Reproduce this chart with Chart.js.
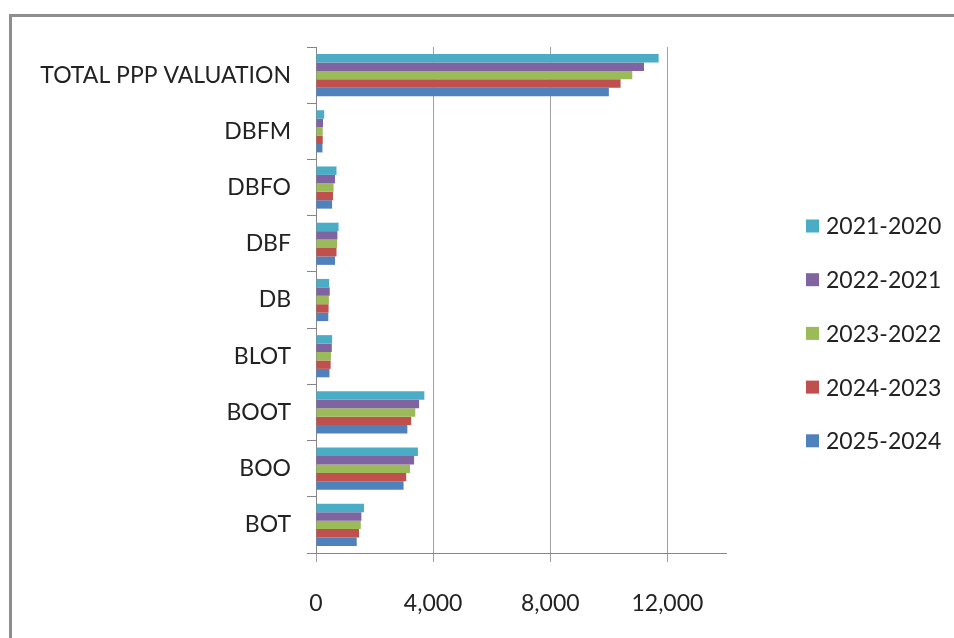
<!DOCTYPE html>
<html>
<head>
<meta charset="utf-8">
<script src="https://cdn.jsdelivr.net/npm/chart.js@4.4.1/dist/chart.umd.min.js"></script>
<style>
  html, body { margin: 0; padding: 0; background: #fff; overflow: hidden; }
  #frame { position: absolute; left: 9px; top: 14px; width: 1000px; height: 700px;
           border-left: 3px solid #8e8e8e; border-top: 3px solid #8e8e8e; }
  #wrap { position: absolute; left: 0; top: 0; width: 954px; height: 638px; }
</style>
</head>
<body>
<div id="frame"></div>
<div id="wrap"><canvas id="pppChart" width="954" height="638"></canvas></div>
<script>
// PPP models and the valuation per financial year
const categories = ['TOTAL PPP VALUATION', 'DBFM', 'DBFO', 'DBF', 'DB', 'BLOT', 'BOOT', 'BOO', 'BOT'];
const seriesNames = ['2021-2020', '2022-2021', '2023-2022', '2024-2023', '2025-2024'];
const fy2021 = [11700, 280, 700, 770, 450, 550, 3700, 3480, 1640];
const fy2022 = [11200, 240, 650, 730, 470, 540, 3520, 3350, 1550];
const fy2023 = [10800, 230, 600, 720, 440, 510, 3390, 3210, 1530];
const fy2024 = [10400, 230, 580, 700, 430, 500, 3250, 3080, 1470];
const fy2025 = [10000, 220, 550, 650, 420, 460, 3120, 2990, 1390];
const xTicks = [0, 4000, 8000, 12000];
const xMax = 14000;

const colors = ['#4bacc6', '#8064a2', '#9bbb59', '#c0504d', '#4f81bd'];
const FONT = 'Lato, "Open Sans", sans-serif';
const TEXT = '#222222';

// legend on the right, drawn as a column of square swatches
const sideLegend = {
  id: 'sideLegend',
  afterDraw(chart) {
    const ctx = chart.ctx;
    ctx.save();
    ctx.font = '23px ' + FONT;
    ctx.textBaseline = 'middle';
    ctx.textAlign = 'left';
    chart.data.datasets.forEach((ds, i) => {
      const y = 226 + i * 53.7;
      ctx.fillStyle = ds.backgroundColor;
      ctx.fillRect(806, y - 6.5, 13, 13);
      ctx.fillStyle = TEXT;
      ctx.fillText(ds.label, 826, y + 1);
    });
    ctx.restore();
  }
};

const seriesData = [fy2021, fy2022, fy2023, fy2024, fy2025];

new Chart(document.getElementById('pppChart'), {
  type: 'bar',
  data: {
    labels: categories,
    datasets: seriesNames.map((name, i) => ({
      label: name,
      data: seriesData[i],
      backgroundColor: colors[i],
      categoryPercentage: 0.75,
      barPercentage: 1.0
    }))
  },
  options: {
    indexAxis: 'y',
    responsive: false,
    animation: false,
    layout: { padding: { top: 47, right: 228, bottom: 21, left: 0 } },
    plugins: {
      legend: { display: false },
      tooltip: { enabled: false }
    },
    scales: {
      x: {
        min: 0,
        max: xMax,
        afterFit(scale) { scale.height = 64; },
        afterBuildTicks(scale) { scale.ticks = xTicks.map(v => ({ value: v })); },
        ticks: {
          includeBounds: false,
          color: TEXT,
          padding: 28,
          font: { family: FONT, size: 23 },
          callback: v => v.toLocaleString('en-US')
        },
        grid: {
          color: '#a0a0a0',
          lineWidth: 1,
          tickLength: 9
        },
        border: { color: '#868686', width: 1 }
      },
      y: {
        afterFit(scale) { scale.width = 316; },
        ticks: {
          color: TEXT,
          padding: 16,
          font: { family: FONT, size: 23 }
        },
        grid: {
          offset: true,
          drawOnChartArea: false,
          color: '#868686',
          tickLength: 9
        },
        border: { color: '#868686', width: 1 }
      }
    }
  },
  plugins: [sideLegend]
});
</script>
</body>
</html>
